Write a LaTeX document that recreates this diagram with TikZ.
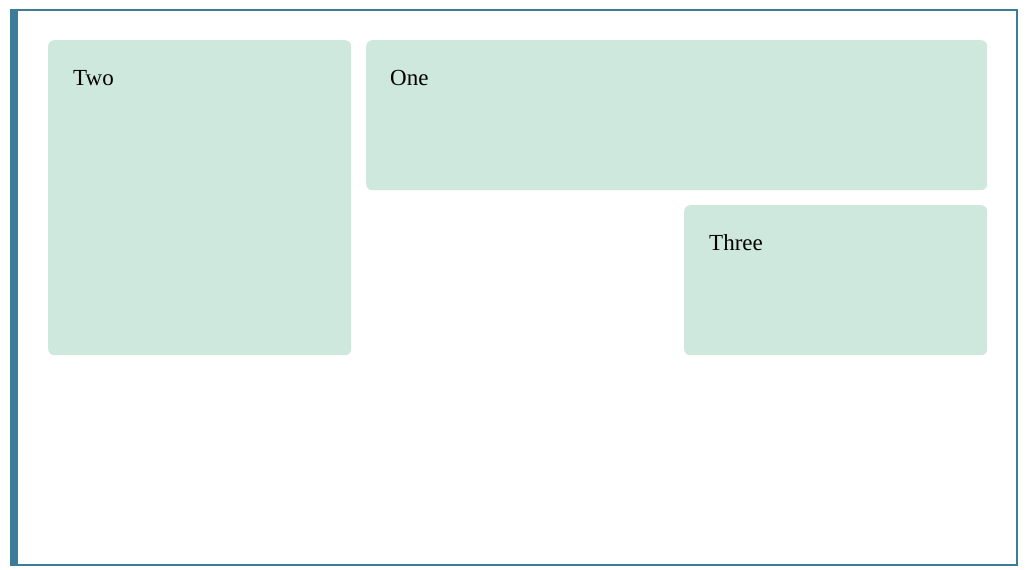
\documentclass[tikz,border=0pt]{standalone}
\usepackage{fontspec}
\setmainfont{Liberation Serif}
\usepackage{xcolor}
\usetikzlibrary{positioning}
\definecolor{frameblue}{HTML}{3B7D99}
\definecolor{panelgreen}{HTML}{CFE8DD}

\begin{document}
\begin{tikzpicture}[x=1pt, y=-1pt,
		panel/.style={fill=panelgreen, draw=none, rounded corners=6pt, inner sep=0pt, anchor=north west},
		caption/.style={anchor=base west, inner sep=0pt, text=black, font=\fontsize{23}{27}\selectfont}]
	\useasboundingbox (0,0) rectangle (1029,570);
	% outer frame
	\draw[frameblue, line width=2pt] (11,10) rectangle (1017,565);
	\fill[frameblue] (10,9) rectangle (18,566);
	% panels
	\node[panel, minimum width=303pt, minimum height=315pt] (two) at (48,40) {};
	\node[panel, minimum width=621pt, minimum height=150pt] (one) at (366,40) {};
	\node[panel, minimum width=303pt, minimum height=150pt] (three) at (684,205) {};
	\node[caption] (twolabel) at ([shift={(25pt,-45pt)}]two.north west) {Two};
	\node[caption] (onelabel) at ([shift={(24pt,-45pt)}]one.north west) {One};
	\node[caption] (threelabel) at ([shift={(25pt,-45pt)}]three.north west) {Three};
\end{tikzpicture}
\end{document}
